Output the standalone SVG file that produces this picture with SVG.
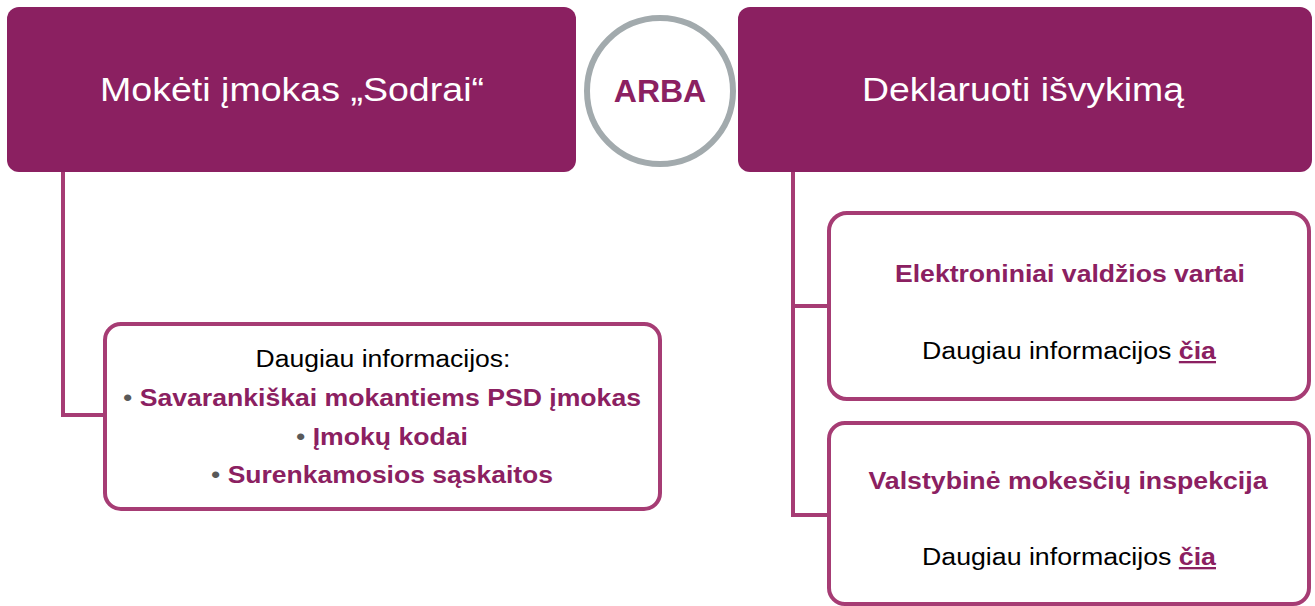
<svg xmlns="http://www.w3.org/2000/svg" width="1315" height="606" viewBox="0 0 1315 606">
<style>
.head{fill:#8B2061}
.box{fill:#fff;stroke:#A63C74;stroke-width:4}
.conn{fill:none;stroke:#A63C74;stroke-width:4}
.ht{font-family:"Liberation Sans",Arial,sans-serif;font-size:33px;fill:#fff;text-anchor:middle}
.t{font-family:"Liberation Sans",Arial,sans-serif;font-size:23px;fill:#000;text-anchor:middle}
.b{font-family:"Liberation Sans",Arial,sans-serif;font-size:23px;font-weight:bold;fill:#8B2061;text-anchor:middle}
.dot{fill:#595959;font-weight:normal}
.u{text-decoration:underline;font-weight:bold;fill:#8B2061}
</style>
<rect width="1315" height="606" fill="#fff"/>
<g id="connectors">
<path class="conn" d="M63,172 V415 H106"/>
<path class="conn" d="M793,172 V515 H829 M793,306 H829"/>
</g>
<g id="left-head">
<rect class="head" x="7" y="7" width="569" height="165" rx="12"/>
<text class="ht" x="292" y="101" textLength="384" lengthAdjust="spacingAndGlyphs">Mokėti įmokas „Sodrai“</text>
</g>
<g id="arba">
<circle cx="660" cy="91" r="73" fill="#fff" stroke="#A2AAAD" stroke-width="6"/>
<text x="660" y="102" font-family="Liberation Sans,Arial,sans-serif" font-size="32" font-weight="bold" fill="#8B2061" text-anchor="middle">ARBA</text>
</g>
<g id="right-head">
<rect class="head" x="738" y="7" width="574" height="165" rx="12"/>
<text class="ht" x="1023" y="101" textLength="322" lengthAdjust="spacingAndGlyphs">Deklaruoti išvykimą</text>
</g>
<g id="left-info">
<rect class="box" x="105" y="324" width="555" height="185" rx="16"/>
<text class="t" x="383" y="367" textLength="255" lengthAdjust="spacingAndGlyphs">Daugiau informacijos:</text>
<text class="b" x="382" y="406" textLength="518" lengthAdjust="spacingAndGlyphs"><tspan class="dot">• </tspan>Savarankiškai mokantiems PSD įmokas</text>
<text class="b" x="382" y="445" textLength="172" lengthAdjust="spacingAndGlyphs"><tspan class="dot">• </tspan>Įmokų kodai</text>
<text class="b" x="382" y="483" textLength="342" lengthAdjust="spacingAndGlyphs"><tspan class="dot">• </tspan>Surenkamosios sąskaitos</text>
</g>
<g id="evv">
<rect class="box" x="829" y="213" width="480" height="186" rx="18"/>
<text class="b" x="1070" y="282" textLength="350" lengthAdjust="spacingAndGlyphs">Elektroniniai valdžios vartai</text>
<text class="t" x="1069" y="359" textLength="294" lengthAdjust="spacingAndGlyphs">Daugiau informacijos <tspan class="u">čia</tspan></text>
</g>
<g id="vmi">
<rect class="box" x="829" y="423" width="480" height="181" rx="16"/>
<text class="b" x="1068" y="489" textLength="399" lengthAdjust="spacingAndGlyphs">Valstybinė mokesčių inspekcija</text>
<text class="t" x="1069" y="565" textLength="294" lengthAdjust="spacingAndGlyphs">Daugiau informacijos <tspan class="u">čia</tspan></text>
</g>
</svg>
